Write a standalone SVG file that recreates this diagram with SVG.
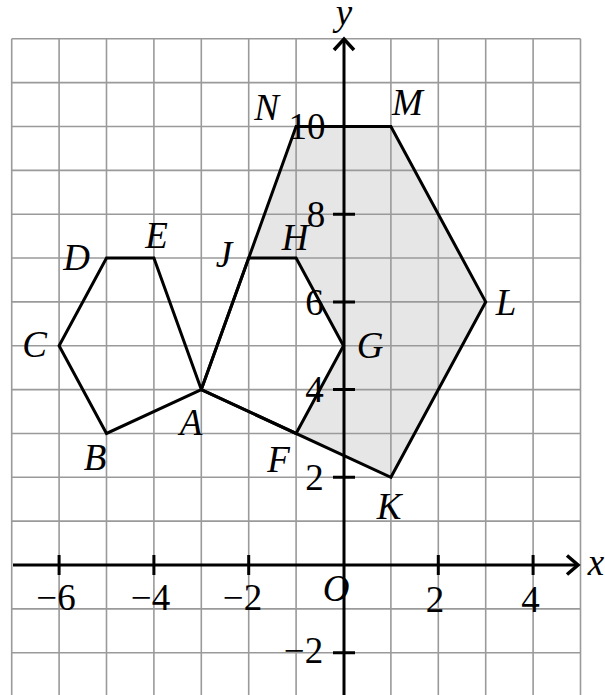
<svg xmlns="http://www.w3.org/2000/svg" width="605" height="695" viewBox="0 0 605 695">
<style>
.grid{stroke:#9a9a9a;stroke-width:1.6;fill:none}
.ax{stroke:#000;stroke-width:3;fill:none}
.shape{stroke:#000;stroke-width:3;fill:none;stroke-linejoin:miter}
.lbl{font-family:"Liberation Serif","Times New Roman",serif;font-style:italic;font-size:37px;fill:#000;text-anchor:middle}
.num{font-family:"Liberation Serif","Times New Roman",serif;font-size:37px;fill:#000;text-anchor:middle}
</style>
<rect width="605" height="695" fill="#fff"/>
<polygon id="shade" points="296.1,126.5 390.9,126.5 485.7,301.9 390.9,477.3 296.1,433.45 343.5,345.75 296.1,258.05 248.7,258.05" fill="#e6e6e6" stroke="none"/>
<g id="grid" class="grid">
<path d="M11.7,38.8V695M59.1,38.8V695M106.5,38.8V695M153.9,38.8V695M201.3,38.8V695M248.7,38.8V695M296.1,38.8V695M390.9,38.8V695M438.3,38.8V695M485.7,38.8V695M533.1,38.8V695M580.5,38.8V695"/>
<path d="M11.7,38.8H580.5M11.7,82.65H580.5M11.7,126.5H580.5M11.7,170.35H580.5M11.7,214.2H580.5M11.7,258.05H580.5M11.7,301.9H580.5M11.7,345.75H580.5M11.7,389.6H580.5M11.7,433.45H580.5M11.7,477.3H580.5M11.7,521.15H580.5M11.7,608.85H580.5M11.7,652.7H580.5"/>
</g>
<g id="axes" class="ax">
<path d="M13,565H577"/>
<path d="M567,555.5L578,565L567,574.5" stroke-width="3.5"/>
<path d="M344,39V695"/>
<path d="M334,50L344,39L354,50" stroke-width="3.5"/>
<path d="M59.1,555V575M153.9,555V575M248.7,555V575M438.3,555V575M533.1,555V575"/>
<path d="M333,477.3H355M333,389.6H355M333,301.9H355M333,214.2H355M333,126.5H355M333,652.7H355"/>
</g>
<g id="connectors">
<polyline id="hexABCDE" class="shape" points="201.3,389.6 106.5,433.45 59.1,345.75 106.5,258.05 153.9,258.05 201.3,389.6"/>
<polyline id="hexAFGHJ" class="shape" points="201.3,389.6 296.1,433.45 343.5,345.75 296.1,258.05 248.7,258.05 201.3,389.6"/>
<polyline id="hexAKLMN" class="shape" points="201.3,389.6 296.1,126.5 390.9,126.5 485.7,301.9 390.9,477.3 201.3,389.6"/>
</g>
<g id="numbers" class="num">
<text x="56" y="610">−6</text>
<text x="150.5" y="610">−4</text>
<text x="242.5" y="610">−2</text>
<text x="435" y="612">2</text>
<text x="530.5" y="612">4</text>
<text x="314.5" y="490">2</text>
<text x="314.5" y="402">4</text>
<text x="314.5" y="315">6</text>
<text x="316" y="227">8</text>
<text x="307" y="139">10</text>
<text x="303.5" y="663">−2</text>
</g>
<g id="labels" class="lbl">
<text x="344" y="25">y</text>
<text x="596" y="575">x</text>
<text x="336" y="601">O</text>
<text x="191" y="435">A</text>
<text x="95" y="470">B</text>
<text x="34.5" y="357">C</text>
<text x="76.5" y="270">D</text>
<text x="156.5" y="248">E</text>
<text x="278.5" y="472">F</text>
<text x="370" y="358">G</text>
<text x="295" y="250">H</text>
<text x="224" y="267">J</text>
<text x="389" y="519">K</text>
<text x="506" y="315">L</text>
<text x="407.5" y="115">M</text>
<text x="266.5" y="120">N</text>
</g>
</svg>
